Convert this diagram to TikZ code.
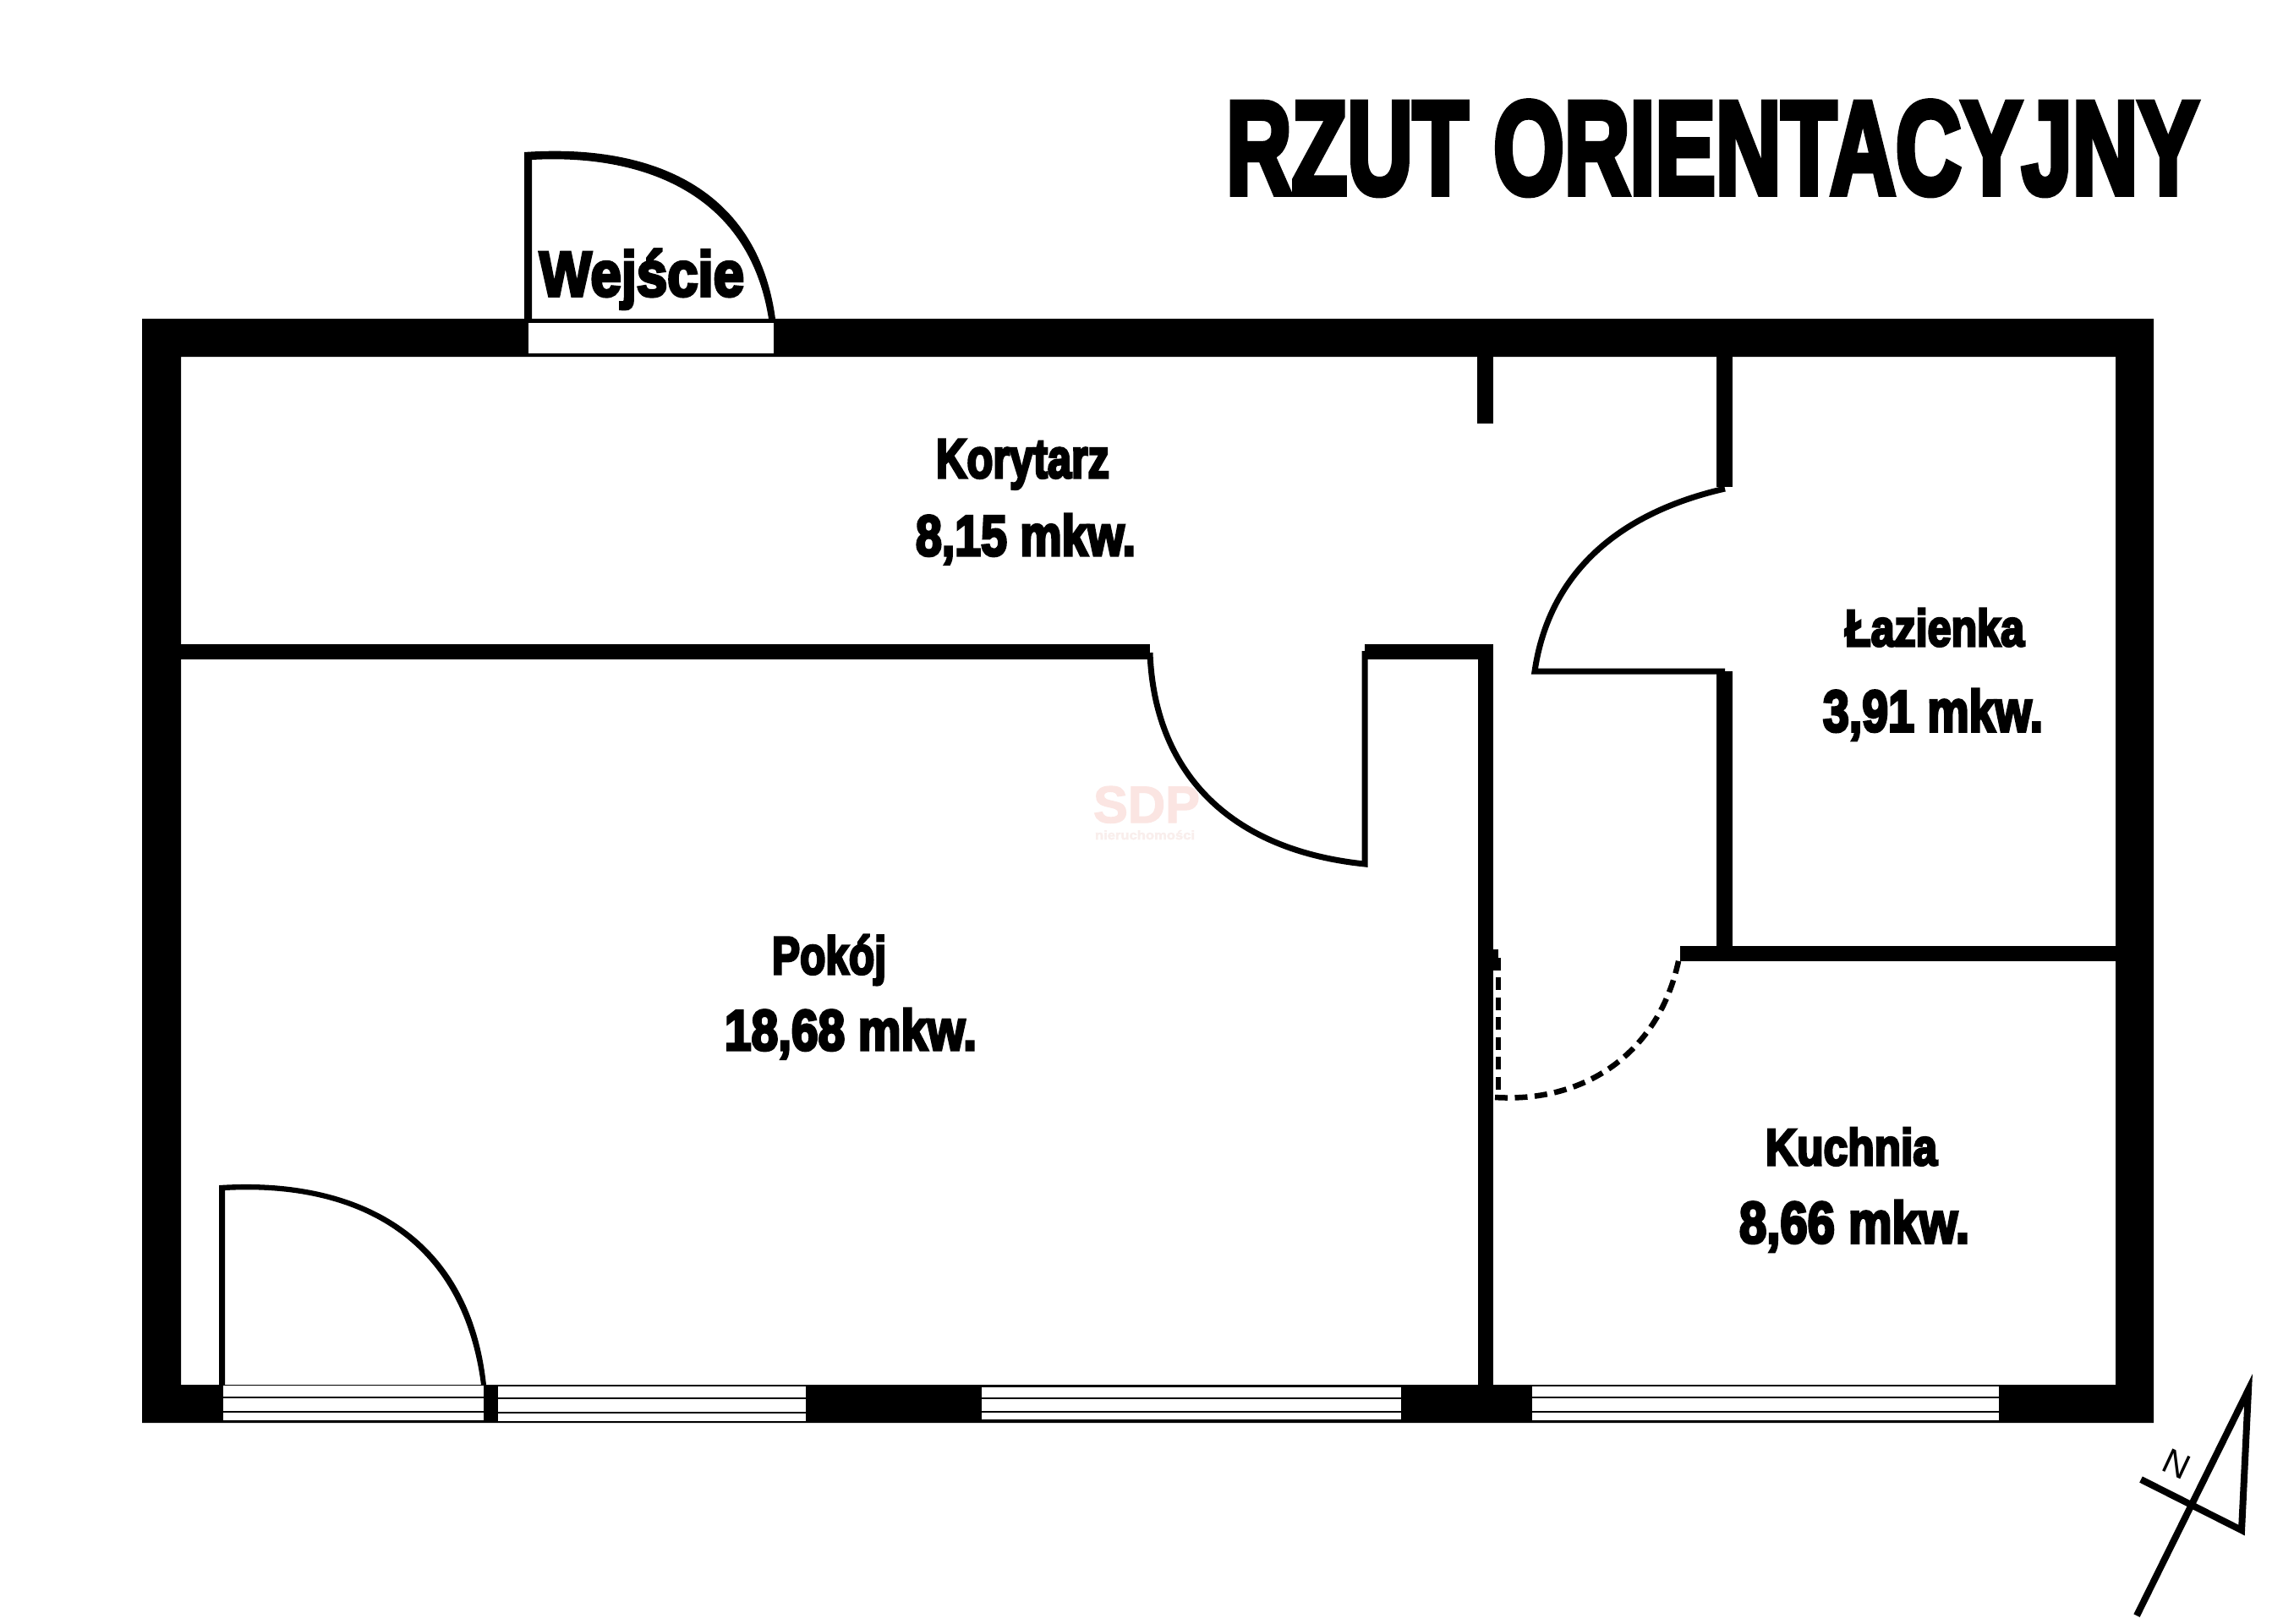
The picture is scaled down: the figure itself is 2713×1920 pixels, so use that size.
\documentclass[tikz,border=0pt]{standalone}
\usepackage{fontspec}
\setmainfont{Liberation Sans}
\newfontfamily\impactfont[FakeBold=5]{Liberation Sans Bold}
\newfontfamily\sdpfont[FakeBold=2]{Liberation Sans Bold}
\newlength\ux
\setlength\ux{0.01cm}
\definecolor{sdppink}{HTML}{FBE5E2}
\definecolor{sdppale}{HTML}{F9EEEC}
\tikzset{
  wall/.style={fill=black},
  winpane/.style={fill=white},
  winbar/.style={draw=black,line width=2\ux},
  doorleaf/.style={draw=black,line width=7\ux,miter limit=10},
  dashleaf/.style={draw=black,line width=6.5\ux,dash pattern=on 15\ux off 8.5\ux},
  lbl/.style={inner sep=0pt,outer sep=0pt,anchor=base west,text=black},
  northline/.style={draw=black,line width=8\ux,miter limit=12}
}
\newcommand{\lab}[6]{\node[lbl] (#1) at (#2,#3) {\resizebox{#4\ux}{#5\ux}{\impactfont #6}};}
\newcommand{\windowpane}[6]{%
  \fill[winpane] (#1,#3) rectangle (#2,#4);
  \draw[winbar] (#1,#5) -- (#2,#5);
  \draw[winbar] (#1,#6) -- (#2,#6);}
\begin{document}
\begin{tikzpicture}[x=0.01cm,y=-0.01cm]
\useasboundingbox (0,0) rectangle (2713,1920);
\fill[white] (0,0) rectangle (2713,1920);
% outer shell
\fill[wall,even odd rule] (168,377) rectangle (2547,1683) (214,422) rectangle (2502,1638);
% inner walls
\fill[wall] (214,762) rectangle (1360,780);
\fill[wall] (1614,762) rectangle (1766,780);
\fill[wall] (1748,762) rectangle (1766,1638);
\fill[wall] (1747,422) rectangle (1766,501);
\fill[wall] (2030,422) rectangle (2049,576);
\fill[wall] (2030,794) rectangle (2049,1119);
\fill[wall] (2030,791) rectangle (2040,796);
\fill[wall] (1987,1119) rectangle (2502,1137);
% entrance opening
\fill[winpane] (625,382) rectangle (915,418);
% windows
\windowpane{264}{572}{1639}{1680}{1653}{1670}
\windowpane{589}{953}{1640}{1681}{1654}{1671}
\windowpane{1161}{1657}{1641}{1679}{1654}{1670}
\windowpane{1812}{2364}{1640}{1680}{1653}{1670}
% entrance door
\fill[wall,even odd rule] (620,180) .. controls (760,170) and (895,215) .. (917,377) -- (620,377) -- cycle
  (629,189) .. controls (755,182) and (885,225) .. (909,377) -- (629,377) -- cycle;
% balcony door
\fill[wall,even odd rule] (259,1402) .. controls (410,1392) and (555,1450) .. (575,1638) -- (259,1638) -- cycle
  (266,1408) .. controls (410,1400) and (545,1455) .. (569,1638) -- (266,1638) -- cycle;
% room door
\draw[doorleaf] (1360,772) .. controls (1365,910) and (1450,1005) .. (1614,1022) -- (1614,770);
% bathroom door
\draw[doorleaf] (2040,578) .. controls (1900,610) and (1830,690) .. (1815,794) -- (2040,794);
% kitchen door
\fill[wall] (1766,1123) rectangle (1772,1142);
\fill[wall] (1766,1133) rectangle (1775,1148);
\draw[dashleaf] (1772,1156) -- (1772,1290);
\draw[dashleaf] (1768,1298) .. controls (1880,1305) and (1965,1240) .. (1986,1132);
% watermark
\node[lbl,text=sdppink] (sdp) at (1293,973) {\resizebox{126\ux}{43\ux}{\sdpfont SDP}};
\node[lbl,text=sdppale] (sdpsub) at (1295,993) {\resizebox{118\ux}{11\ux}{\sdpfont nieruchomości}};
% labels
\lab{title}{1450}{229}{1150}{109}{RZUT ORIENTACYJNY}
\lab{wejscie}{638}{350}{242}{55}{Wejście}
\lab{kor}{1107}{565}{205}{45}{Korytarz}
\lab{korm}{1083}{657}{260}{49}{8,15 mkw.}
\lab{pok}{913}{1152}{135}{46}{Pokój}
\lab{pokm}{857}{1242}{298}{49}{18,68 mkw.}
\lab{laz}{2182}{764}{212}{44}{Łazienka}
\lab{lazm}{2156}{865}{260}{50}{3,91 mkw.}
\lab{kuch}{2088}{1378}{203}{44}{Kuchnia}
\lab{kuchm}{2057}{1470}{272}{50}{8,66 mkw.}
% north arrow
\draw[northline] (2527,1911) -- (2659,1644) -- (2651,1810) -- (2532,1750);
\node[inner sep=0pt,rotate=-25] (north) at (2574,1732) {\fontsize{11.9}{12}\selectfont N};
\end{tikzpicture}
\end{document}
